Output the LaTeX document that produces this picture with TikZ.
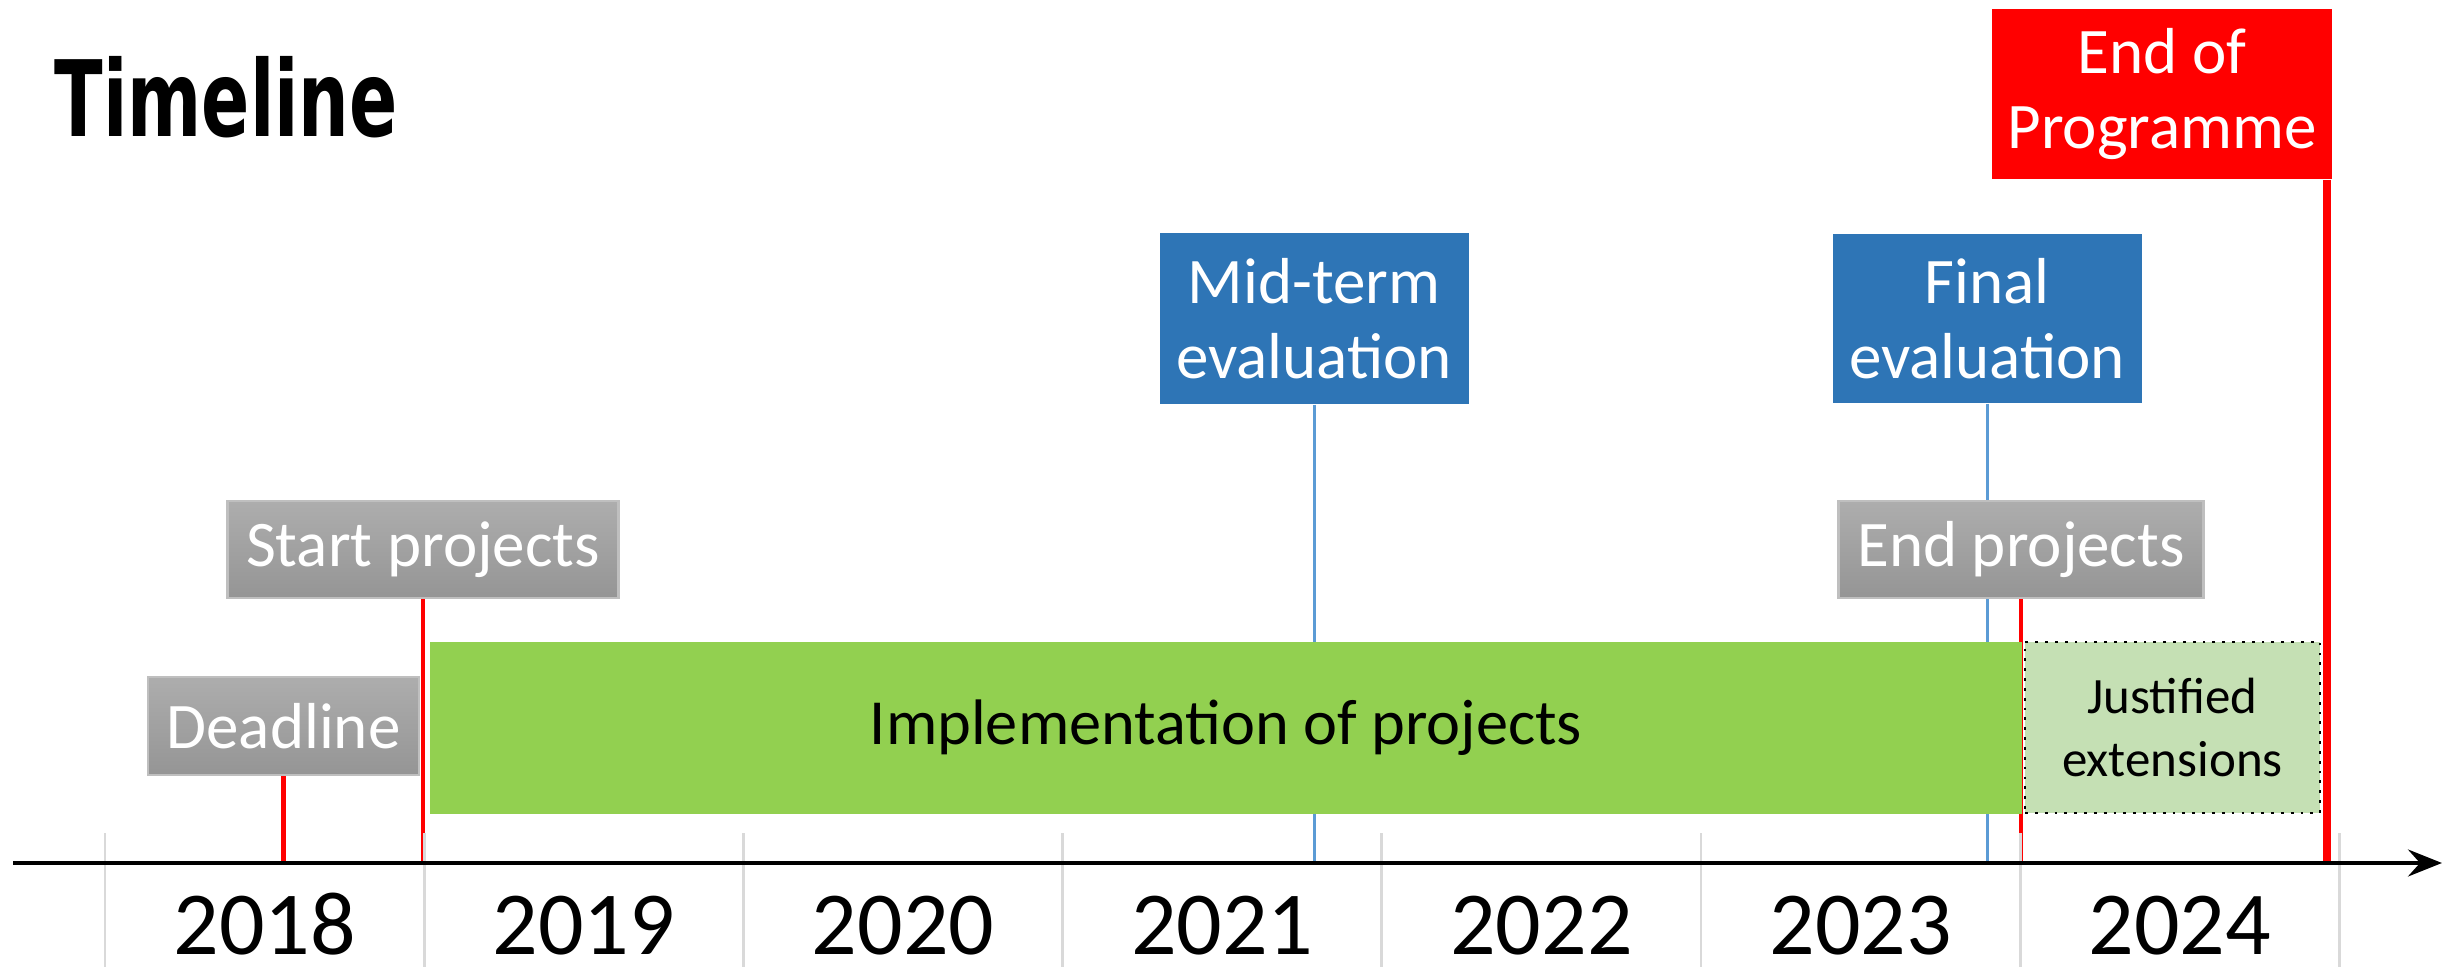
\documentclass[tikz,border=0pt]{standalone}
\usepackage{fontspec}
\setmainfont{Carlito}
\newfontfamily\titlefont{DejaVu Sans Condensed}
\usetikzlibrary{arrows.meta,backgrounds}
\definecolor{greytop}{HTML}{ADADAD}
\definecolor{greybot}{HTML}{959595}
\definecolor{greyedge}{HTML}{BFBFBF}
\definecolor{evalblue}{HTML}{2E75B6}
\definecolor{lineblue}{HTML}{5B9BD5}
\definecolor{implgreen}{HTML}{92D050}
\definecolor{extgreen}{HTML}{C5E0B4}
\definecolor{sepgrey}{HTML}{D9D9D9}
\tikzset{
  greybox/.style={rectangle, top color=greytop, bottom color=greybot, draw=greyedge, line width=0.6pt,
    text=white, inner sep=0pt, font=\fontsize{18.5}{21.3}\selectfont},
  bluebox/.style={rectangle, fill=evalblue, text=white, inner sep=0pt, align=center,
    font=\fontsize{18.5}{21.3}\selectfont},
  redbox/.style={rectangle, fill=red, text=white, inner sep=0pt, align=center,
    font=\fontsize{18.5}{21.3}\selectfont},
  redline/.style={red, line width=1.15pt},
  blueline/.style={lineblue, line width=0.85pt},
  yearsep/.style={sepgrey, line width=0.8pt},
  yearlabel/.style={anchor=base, inner sep=0pt, font=\fontsize{25.6}{30}\selectfont},
}
\begin{document}
\begin{tikzpicture}
\useasboundingbox (0,0) rectangle (24.47,9.67);
\node[anchor=base west, inner sep=0pt] (title) at (0.54,8.30)
  {\scalebox{0.75}[1]{\titlefont\bfseries\fontsize{30}{30}\selectfont Timeline}};
\foreach \i in {0,...,7}
  \draw[yearsep] (1.05+3.192*\i,0) -- ++(0,1.34);
\foreach \y [count=\i from 0] in {2018,...,2024}
  \node[yearlabel] (y\y) at (2.646+3.192*\i,0.12) {\y};
\coordinate (axl) at (0.13,1.04);
\coordinate (axr) at (24.42,1.04);
\draw[line width=1.2pt, -{Stealth[length=0.34cm, width=0.27cm, inset=0.12cm]}] (axl) -- (axr);
\node[greybox, minimum width=2.71cm, minimum height=0.98cm] (deadline) at (2.835,2.41) {Deadline};
\node[greybox, minimum width=3.91cm, minimum height=0.97cm] (start) at (4.23,4.175) {Start projects};
\node[greybox, minimum width=3.65cm, minimum height=0.97cm] (endproj) at (20.21,4.175) {End projects};
\node[bluebox, minimum width=3.09cm, minimum height=1.71cm] (midterm) at (13.14,6.485) {Mid-term\\evaluation};
\node[bluebox, minimum width=3.09cm, minimum height=1.69cm] (final) at (19.87,6.485) {Final\\evaluation};
\node[redbox, minimum width=3.40cm, minimum height=1.70cm] (eop) at (21.62,8.73) {End of\\Programme};
\node[fill=implgreen, minimum width=15.92cm, minimum height=1.72cm, inner sep=0pt,
  font=\fontsize{18.3}{21.3}\selectfont] (impl) at (12.26,2.39) {Implementation of projects};
\node[fill=extgreen, draw, dotted, line width=0.8pt, minimum width=2.95cm, minimum height=1.71cm,
  inner sep=0pt, align=center, font=\fontsize{14.5}{18.2}\selectfont] (ext) at (21.725,2.395)
  {Justified\\extensions};
\coordinate (eopx) at (23.27,1.04);
\begin{pgfonlayer}{background}
\draw[redline] (deadline.south) -- (deadline.south |- axl);
\draw[redline] (start.south) -- (start.south |- axl);
\draw[redline] (endproj.south) -- (endproj.south |- axl);
\draw[blueline] (midterm.south) -- (midterm.south |- axl);
\draw[blueline] (final.south) -- (final.south |- axl);
\draw[red, line width=2.3pt] (eopx |- eop.south) -- (eopx);
\end{pgfonlayer}
\end{tikzpicture}
\end{document}
